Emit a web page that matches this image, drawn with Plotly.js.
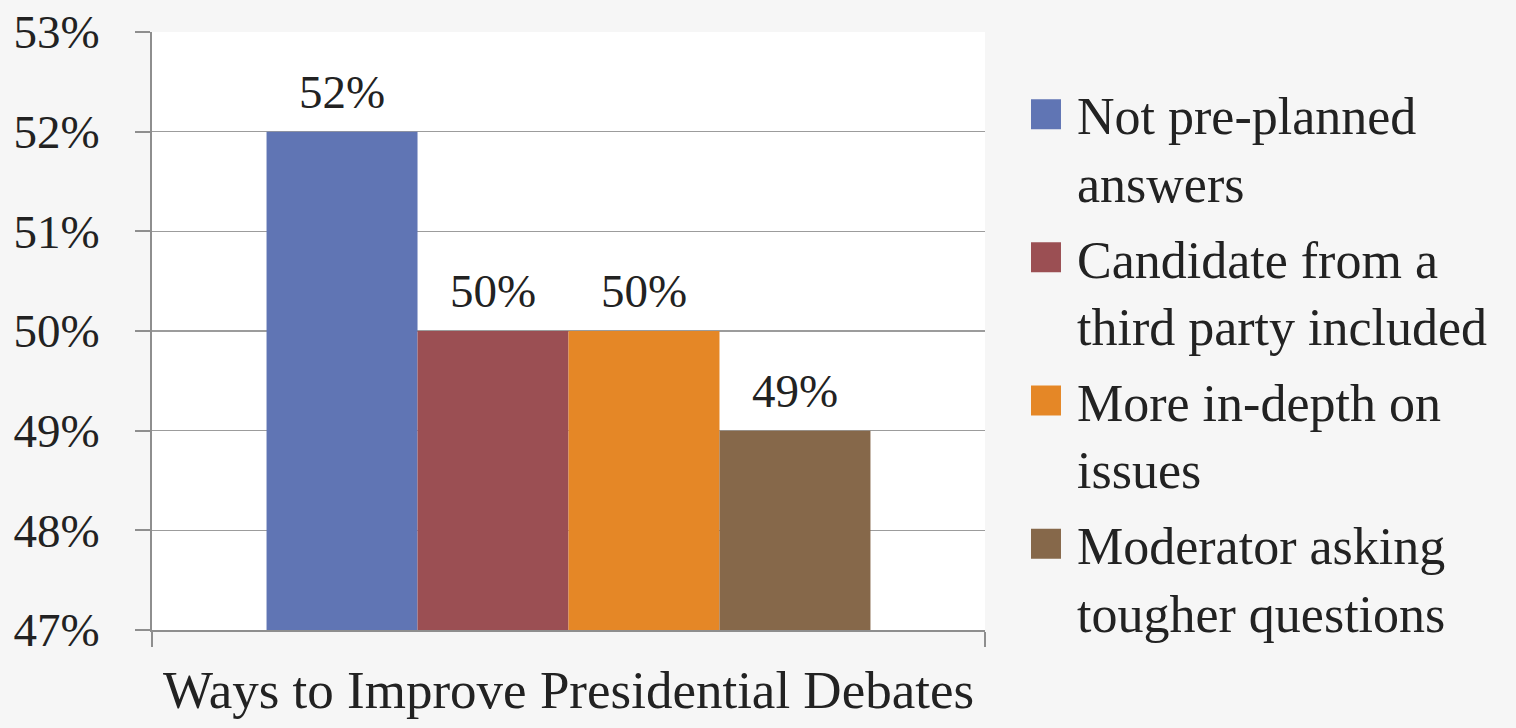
<!DOCTYPE html>
<html>
<head>
<meta charset="utf-8">
<script src="https://cdn.plot.ly/plotly-3.0.1.min.js"></script>
<style>
  html, body { margin: 0; padding: 0; background: #f6f6f6; }
  #chart { width: 1516px; height: 728px; }
</style>
</head>
<body>
<div id="chart"></div>
<script>
const categories = ['Ways to Improve Presidential Debates'];
const seriesNames = [
  'Not pre-planned<br>answers',
  'Candidate from a<br>third party included',
  'More in-depth on<br>issues',
  'Moderator asking<br>tougher questions'
];
const seriesValues = [0.52, 0.50, 0.50, 0.49];
const seriesColors = ['#6075b4', '#9b4f53', '#e58726', '#86684a'];
const yTickVals = [0.47, 0.48, 0.49, 0.50, 0.51, 0.52, 0.53];

const FONT = '"Liberation Serif", "DejaVu Serif", serif';
const W = 1516, H = 728;
const margin = {l: 152, r: 531, t: 32, b: 98};
const bargap = 0.275;

const traces = seriesNames.map((name, i) => ({
  type: 'bar',
  name: name,
  legendgroup: 'g' + i,
  x: categories,
  y: [seriesValues[i]],
  marker: {color: seriesColors[i], line: {width: 0}},
  hoverinfo: 'skip'
}));

const plotW = W - margin.l - margin.r;
const barPx = plotW * (1 - bargap) / seriesNames.length;
const annotations = seriesValues.map((v, i) => ({
  x: categories[0],
  y: v,
  xref: 'x', yref: 'y',
  text: Math.round(v * 100) + '%',
  showarrow: false,
  xanchor: 'center', yanchor: 'bottom',
  xshift: (i - (seriesValues.length - 1) / 2) * barPx,
  yshift: 12,
  font: {family: FONT, size: 47, color: '#222222'}
}));

const layout = {
  width: W, height: H,
  margin: margin,
  paper_bgcolor: '#f6f6f6',
  plot_bgcolor: '#ffffff',
  barmode: 'group',
  bargap: bargap,
  bargroupgap: 0,
  showlegend: true,
  font: {family: FONT, color: '#222222'},
  xaxis: {
    type: 'category',
    showline: true, linecolor: '#8e8e8e', linewidth: 2,
    ticks: 'outside', tickson: 'boundaries', ticklen: 15, tickwidth: 2, tickcolor: '#8e8e8e',
    showgrid: false,
    tickfont: {family: FONT, size: 53, color: '#222222'},
    ticklabelstandoff: 12
  },
  yaxis: {
    range: [0.47, 0.53],
    tickvals: yTickVals,
    tickformat: '.0%',
    showline: true, linecolor: '#8e8e8e', linewidth: 2,
    ticks: 'outside', ticklen: 15, tickwidth: 2, tickcolor: '#8e8e8e',
    showgrid: true, gridcolor: '#9c9c9c', gridwidth: 1.5,
    zeroline: false,
    tickfont: {family: FONT, size: 47, color: '#222222'},
    ticklabelstandoff: 26
  },
  legend: {
    x: 1.0552, xanchor: 'left',
    y: 0.93, yanchor: 'top',
    valign: 'top',
    bgcolor: 'rgba(0,0,0,0)',
    font: {family: FONT, size: 52, color: '#222222'},
    tracegroupgap: 5
  },
  annotations: annotations
};

function enlargeLegendIcons() {
  document.querySelectorAll('#chart .legend .legendpoints path').forEach(p => {
    p.setAttribute('transform', 'translate(15,0) scale(2.5)');
  });
  document.querySelectorAll('#chart .legend text.legendtext').forEach(t => {
    t.setAttribute('transform', 'translate(6,0)');
  });
}

Plotly.newPlot('chart', traces, layout, {displayModeBar: false, staticPlot: true})
  .then(enlargeLegendIcons);
</script>
</body>
</html>
